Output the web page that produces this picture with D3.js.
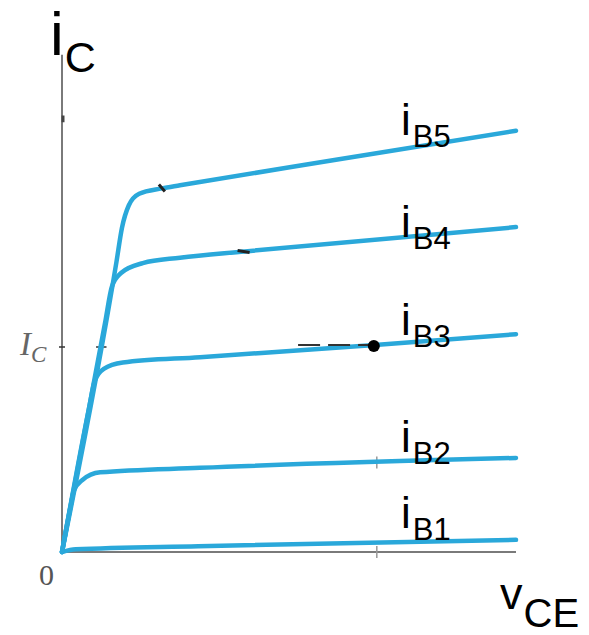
<!DOCTYPE html>
<html>
<head>
<meta charset="utf-8">
<script src="https://cdn.jsdelivr.net/npm/d3@7"></script>
<style>
  body { margin: 0; background: #fff; }
  svg { display: block; }
  .curve { fill: none; stroke: #2aa8da; stroke-width: 4.5; stroke-linecap: round; stroke-linejoin: round; }
  .axis { stroke: #7a7a7a; stroke-width: 2; }
  .lbl { font-family: "Liberation Sans", Arial, sans-serif; fill: #000; }
</style>
</head>
<body>
<svg width="589" height="635"></svg>
<script>
const w = 589, h = 635;

// characteristic curves, [vCE, iC] in arbitrary units
const ib1 = [[0, 0], [0.3, 0.06], [3, 0.13], [10, 0.27]];
const ib2 = [[0, 0], [0.2, 1.07], [0.26, 1.36], [0.45, 1.6], [0.84, 1.77], [3.04, 1.87], [10, 2.09]];
const ib3 = [[0, 0], [0.6, 3.22], [0.72, 3.8], [0.92, 4.07], [1.34, 4.21], [3.04, 4.33], [6.89, 4.6], [10, 4.84]];
const ib4 = [[0, 0], [0.95, 5.1], [1.1, 5.9], [1.3, 6.2], [1.78, 6.42], [2.6, 6.54], [4.03, 6.68], [10, 7.22]];
const ib5 = [[0, 0], [1.2, 6.45], [1.32, 7.2], [1.47, 7.7], [1.7, 7.96], [2.2, 8.08], [2.6, 8.15], [6, 8.71], [10, 9.36]];
const curves = [ib1, ib2, ib3, ib4, ib5];
const curveNames = ["B1", "B2", "B3", "B4", "B5"];

// operating point
const qV = 6.89, qI = 4.6;

const x = d3.scaleLinear().domain([0, 10]).range([62, 516]);
const y = d3.scaleLinear().domain([0, 10]).range([552, 102]);

const svg = d3.select("svg");

// axes
svg.append("line").attr("class", "axis")
    .attr("x1", x(0)).attr("x2", x(0)).attr("y1", y(0)).attr("y2", y(11.05));
svg.append("line").attr("class", "axis")
    .attr("x1", x(0)).attr("x2", x(10)).attr("y1", y(0)).attr("y2", y(0));

// small ticks
svg.append("line").attr("stroke", "#333").attr("stroke-width", 1.5)
    .attr("x1", x(0) - 3).attr("x2", x(0) + 3).attr("y1", y(qI) + 2).attr("y2", y(qI) + 2);
svg.append("line").attr("stroke", "#333").attr("stroke-width", 1.5)
    .attr("x1", x(0.75)).attr("x2", x(0.98)).attr("y1", y(qI) + 2).attr("y2", y(qI) + 2);
svg.append("line").attr("stroke", "#444").attr("stroke-width", 3)
    .attr("x1", x(0) + 1).attr("x2", x(0) + 1).attr("y1", y(9.7)).attr("y2", y(9.55));
svg.append("line").attr("stroke", "#999").attr("stroke-width", 1.5)
    .attr("x1", x(qV) + 2).attr("x2", x(qV) + 2).attr("y1", y(0) - 6).attr("y2", y(0) + 6);
svg.append("line").attr("stroke", "#999").attr("stroke-width", 1.5)
    .attr("x1", x(qV) + 2).attr("x2", x(qV) + 2).attr("y1", y(1.99) - 6).attr("y2", y(1.99) + 6);

const line = d3.line()
    .x(d => x(d[0]))
    .y(d => y(d[1]))
    .curve(d3.curveMonotoneX);

svg.selectAll("path.curve")
    .data(curves)
    .join("path").attr("class", "curve")
    .attr("d", line);

// marks on the curves
svg.append("line").attr("stroke", "#222").attr("stroke-width", 3)
    .attr("x1", x(2.2) - 3).attr("y1", y(8.08) - 4).attr("x2", x(2.2) + 3).attr("y2", y(8.08) + 3);
svg.append("line").attr("stroke", "#222").attr("stroke-width", 3)
    .attr("x1", x(4.0) - 6).attr("y1", y(6.68) - 1).attr("x2", x(4.0) + 6).attr("y2", y(6.68) + 1);

// guide to Q point
svg.append("line").attr("stroke", "#333").attr("stroke-width", 2)
    .attr("stroke-dasharray", "22,8")
    .attr("x1", x(5.2)).attr("x2", x(qV)).attr("y1", y(qI)).attr("y2", y(qI));
svg.append("circle").attr("fill", "#000")
    .attr("cx", x(qV) - 1).attr("cy", y(qI) + 1).attr("r", 6);

// curve labels
svg.selectAll("text.ib")
    .data(curveNames)
    .join("text").attr("class", "ib lbl")
    .attr("x", 401)
    .attr("y", (d, i) => [528, 452, 335, 237, 135][i])
    .each(function(d) {
        const t = d3.select(this);
        t.append("tspan").attr("font-size", 44).text("i");
        t.append("tspan").attr("font-size", 31).attr("dx", 2).attr("dy", 12).text(d);
    });

// axis labels
const ic = svg.append("text").attr("class", "lbl").attr("x", 50).attr("y", 55);
ic.append("tspan").attr("font-size", 62).text("i");
ic.append("tspan").attr("font-size", 43).attr("dx", 1).attr("dy", 17).text("C");

const vce = svg.append("text").attr("class", "lbl").attr("x", 500).attr("y", 609);
vce.append("tspan").attr("font-size", 45).text("v");
vce.append("tspan").attr("font-size", 40).attr("dx", 1).attr("dy", 18).text("CE");

svg.append("text")
    .attr("x", 39).attr("y", 585)
    .attr("font-family", "Liberation Serif, serif")
    .attr("font-size", 30).attr("fill", "#555")
    .text("0");

const icl = svg.append("text")
    .attr("x", 20).attr("y", 355)
    .attr("font-family", "Liberation Serif, serif")
    .attr("font-style", "italic").attr("fill", "#666");
icl.append("tspan").attr("font-size", 33).text("I");
icl.append("tspan").attr("font-size", 23).attr("dx", 0).attr("dy", 7).text("C");
</script>
</body>
</html>
